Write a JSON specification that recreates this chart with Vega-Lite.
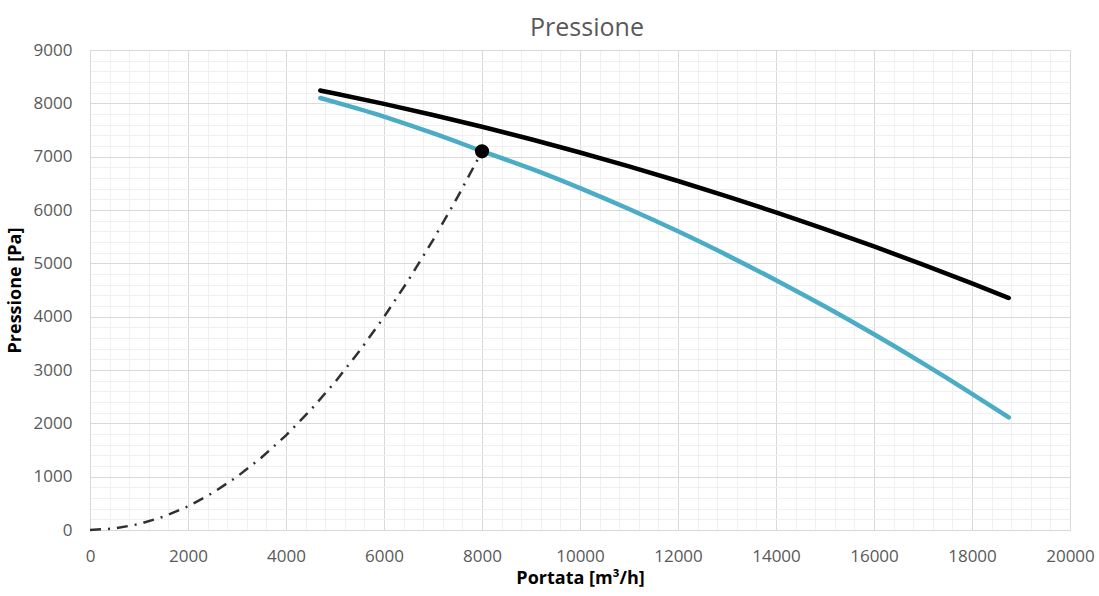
{
  "$schema": "https://vega.github.io/schema/vega-lite/v6.json",
  "width": 980,
  "height": 480,
  "autosize": {"type": "none"},
  "padding": {"left": 90, "top": 50, "right": 29, "bottom": 66},
  "background": "white",
  "title": {
    "text": "Pressione",
    "font": "Open Sans",
    "fontSize": 25,
    "fontWeight": "normal",
    "color": "#595959",
    "anchor": "middle",
    "frame": "group",
    "offset": 0,
    "dx": 7
  },
  "config": {
    "view": {"stroke": null},
    "font": "Open Sans"
  },
  "data": {
    "values": [
      {"serie": "max", "Q": 4700, "P": 8240},
      {"serie": "max", "Q": 5000, "P": 8184},
      {"serie": "max", "Q": 6000, "P": 7989},
      {"serie": "max", "Q": 7000, "P": 7781},
      {"serie": "max", "Q": 8000, "P": 7560},
      {"serie": "max", "Q": 9000, "P": 7326},
      {"serie": "max", "Q": 10000, "P": 7078},
      {"serie": "max", "Q": 11000, "P": 6817},
      {"serie": "max", "Q": 12000, "P": 6544},
      {"serie": "max", "Q": 13000, "P": 6256},
      {"serie": "max", "Q": 14000, "P": 5956},
      {"serie": "max", "Q": 15000, "P": 5643},
      {"serie": "max", "Q": 16000, "P": 5316},
      {"serie": "max", "Q": 17000, "P": 4977},
      {"serie": "max", "Q": 18000, "P": 4624},
      {"serie": "max", "Q": 18750, "P": 4350},
      {"serie": "lavoro", "Q": 4700, "P": 8100},
      {"serie": "lavoro", "Q": 5000, "P": 8023},
      {"serie": "lavoro", "Q": 6000, "P": 7752},
      {"serie": "lavoro", "Q": 7000, "P": 7440},
      {"serie": "lavoro", "Q": 8000, "P": 7105},
      {"serie": "lavoro", "Q": 9000, "P": 6775},
      {"serie": "lavoro", "Q": 10000, "P": 6410},
      {"serie": "lavoro", "Q": 11000, "P": 6018},
      {"serie": "lavoro", "Q": 12000, "P": 5600},
      {"serie": "lavoro", "Q": 13000, "P": 5154},
      {"serie": "lavoro", "Q": 14000, "P": 4684},
      {"serie": "lavoro", "Q": 15000, "P": 4189},
      {"serie": "lavoro", "Q": 16000, "P": 3669},
      {"serie": "lavoro", "Q": 17000, "P": 3124},
      {"serie": "lavoro", "Q": 18000, "P": 2554},
      {"serie": "lavoro", "Q": 18750, "P": 2110},
      {"serie": "impianto", "Q": 0, "P": 0},
      {"serie": "impianto", "Q": 500, "P": 28},
      {"serie": "impianto", "Q": 1000, "P": 111},
      {"serie": "impianto", "Q": 1500, "P": 250},
      {"serie": "impianto", "Q": 2000, "P": 444},
      {"serie": "impianto", "Q": 2500, "P": 693},
      {"serie": "impianto", "Q": 3000, "P": 998},
      {"serie": "impianto", "Q": 3500, "P": 1359},
      {"serie": "impianto", "Q": 4000, "P": 1775},
      {"serie": "impianto", "Q": 4500, "P": 2247},
      {"serie": "impianto", "Q": 5000, "P": 2773},
      {"serie": "impianto", "Q": 5500, "P": 3356},
      {"serie": "impianto", "Q": 6000, "P": 3994},
      {"serie": "impianto", "Q": 6500, "P": 4687},
      {"serie": "impianto", "Q": 7000, "P": 5436},
      {"serie": "impianto", "Q": 7500, "P": 6240},
      {"serie": "impianto", "Q": 8000, "P": 7100},
      {"serie": "punto", "Q": 8000, "P": 7100}
    ]
  },
  "encoding": {
    "x": {
      "field": "Q",
      "type": "quantitative",
      "scale": {"domain": [0, 20000], "nice": false, "zero": true},
      "axis": {
        "title": "Portata [m³/h]",
        "titleFont": "Open Sans",
        "titleFontSize": 18,
        "titleFontWeight": "bold",
        "titleColor": "#000000",
        "titlePadding": 5,
        "values": [0,400,800,1200,1600,2000,2400,2800,3200,3600,4000,4400,4800,5200,5600,6000,6400,6800,7200,7600,8000,8400,8800,9200,9600,10000,10400,10800,11200,11600,12000,12400,12800,13200,13600,14000,14400,14800,15200,15600,16000,16400,16800,17200,17600,18000,18400,18800,19200,19600,20000],
        "labelExpr": "datum.value % 2000 === 0 ? datum.label : ''",
        "format": "d",
        "labelFont": "Open Sans",
        "labelFontSize": 17,
        "labelColor": "#595959",
        "labelPadding": 18,
        "labelFlush": false,
        "labelOverlap": false,
        "ticks": false,
        "domainColor": "#d9d9d9",
        "domainWidth": 1,
        "grid": true,
        "gridColor": {"condition": {"test": "datum.value % 2000 === 0", "value": "#d9d9d9"}, "value": "#f0f0f0"},
        "gridWidth": 1
      }
    },
    "y": {
      "field": "P",
      "type": "quantitative",
      "scale": {"domain": [0, 9000], "nice": false, "zero": true},
      "axis": {
        "title": "Pressione [Pa]",
        "titleFont": "Open Sans",
        "titleFontSize": 18,
        "titleFontWeight": "bold",
        "titleColor": "#000000",
        "titlePadding": 9,
        "values": [0,200,400,600,800,1000,1200,1400,1600,1800,2000,2200,2400,2600,2800,3000,3200,3400,3600,3800,4000,4200,4400,4600,4800,5000,5200,5400,5600,5800,6000,6200,6400,6600,6800,7000,7200,7400,7600,7800,8000,8200,8400,8600,8800,9000],
        "labelExpr": "datum.value % 1000 === 0 ? datum.label : ''",
        "format": "d",
        "labelFont": "Open Sans",
        "labelFontSize": 17,
        "labelColor": "#595959",
        "labelPadding": 18,
        "labelFlush": false,
        "labelOverlap": false,
        "ticks": false,
        "domainColor": "#d9d9d9",
        "domainWidth": 1,
        "grid": true,
        "gridColor": {"condition": {"test": "datum.value % 1000 === 0", "value": "#d9d9d9"}, "value": "#f0f0f0"},
        "gridWidth": 1
      }
    }
  },
  "layer": [
    {
      "transform": [{"filter": "datum.serie === 'impianto'"}],
      "mark": {"type": "line", "color": "#303030", "strokeWidth": 2.5, "strokeDash": [11, 7, 2, 7]},
      "encoding": {}
    },
    {
      "transform": [{"filter": "datum.serie === 'lavoro' || datum.serie === 'max'"}],
      "mark": {"type": "line", "strokeWidth": 4.5, "strokeCap": "round", "interpolate": "monotone"},
      "encoding": {
        "color": {
          "field": "serie",
          "type": "nominal",
          "scale": {"domain": ["lavoro", "max"], "range": ["#4bacc6", "#000000"]},
          "legend": null
        }
      }
    },
    {
      "transform": [{"filter": "datum.serie === 'punto'"}],
      "mark": {"type": "point", "shape": "circle", "filled": true, "size": 200, "color": "#000000", "opacity": 1},
      "encoding": {}
    }
  ]
}
